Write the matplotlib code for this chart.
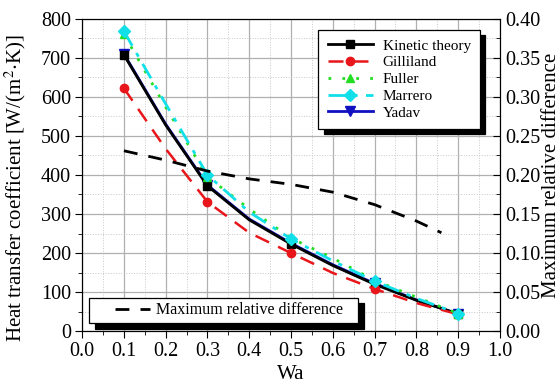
import numpy as np
import matplotlib
matplotlib.use('Agg')
import matplotlib.pyplot as plt
from matplotlib.ticker import MultipleLocator, FormatStrFormatter
from matplotlib.legend_handler import HandlerLine2D

plt.rcParams['font.family'] = ['Liberation Serif', 'DejaVu Serif']
plt.rcParams['mathtext.fontset'] = 'stix'

# data
wa = [0.1, 0.2, 0.3, 0.4, 0.5, 0.6, 0.7, 0.8, 0.9]
kinetic = [708, 528, 372, 285, 223, 168, 120, 79, 44]
gilliland = [622, 467, 331, 252, 200, 149, 108, 72, 43]
fuller = [760, 574, 395, 313, 238, 187, 130, 87, 45]
marrero = [768, 582, 400, 305, 236, 180, 128, 84, 45]
yadav = [710, 530, 374, 287, 225, 170, 122, 80, 44]

wa_diff = [0.1, 0.2, 0.3, 0.4, 0.5, 0.6, 0.7, 0.8, 0.86]
max_diff = [0.231, 0.219, 0.205, 0.195, 0.188, 0.178, 0.162, 0.141, 0.126]

fig = plt.figure(figsize=(5.57, 3.85), dpi=100)
ax = fig.add_axes([0.1475, 0.140, 0.750, 0.811])

ax.plot(wa, yadav, color='#1010c0', lw=2, marker='v', ms=7, markevery=2,
        label='Yadav', zorder=3)
ax.plot(wa, kinetic, color='black', lw=2, marker='s', ms=6, markevery=2,
        label='Kinetic theory', zorder=4)
ax.plot(wa, gilliland, color='#e8161a', lw=1.8, ls=(0, (6, 4)), marker='o', ms=6,
        markevery=2, label='Gilliland', zorder=4)
ax.plot(wa, fuller, color='#22dd22', lw=2, ls=(0, (1, 4)), marker='^', ms=6,
        markevery=2, label='Fuller', zorder=4)
ax.plot(wa, marrero, color='#11e0e8', lw=2, ls=(0, (6, 3, 1.5, 3)), marker='D', ms=6,
        markevery=2, label='Marrero', zorder=5)

ax.set_xlim(0, 1.0)
ax.set_ylim(0, 800)
ax.xaxis.set_major_locator(MultipleLocator(0.1))
ax.xaxis.set_minor_locator(MultipleLocator(0.05))
ax.yaxis.set_major_locator(MultipleLocator(100))
ax.yaxis.set_minor_locator(MultipleLocator(50))
ax.grid(which='major', color='#b0b0b0', lw=0.9)
ax.grid(which='minor', color='#c8c8c8', lw=0.7, ls=':')
ax.set_axisbelow(True)
ax.tick_params(which='both', direction='out', labelsize=14.5, top=False, right=False)
ax.tick_params(which='major', length=5, pad=3)
ax.tick_params(which='minor', length=3)
ax.set_xlabel('Wa', fontsize=15)
ax.xaxis.set_label_coords(0.5, -0.11)
ax.set_ylabel(r'Heat transfer coefficient [W/(m$^2$$\cdot$K)]', fontsize=15)
ax.yaxis.set_label_coords(-0.13, 0.457)

handles, labels = ax.get_legend_handles_labels()
order = [1, 2, 3, 4, 0]
leg = ax.legend([handles[i] for i in order], [labels[i] for i in order],
                loc='upper right', bbox_to_anchor=(0.952, 0.965), borderaxespad=0,
                fontsize=11, fancybox=False, edgecolor='black', framealpha=1,
                shadow={'color': 'black', 'alpha': 1, 'ox': 4, 'oy': -4},
                handlelength=3.0, handletextpad=0.6, labelspacing=0.2, borderpad=0.6)
leg.get_frame().set_linewidth(0.9)

ax2 = ax.twinx()
ax2.plot(wa_diff, max_diff, color='black', lw=2, ls=(0, (5, 4)),
         label='Maximum relative difference')
ax2.set_ylim(0, 0.4)
ax2.yaxis.set_major_locator(MultipleLocator(0.05))
ax2.yaxis.set_minor_locator(MultipleLocator(0.025))
ax2.yaxis.set_major_formatter(FormatStrFormatter('%.2f'))
ax2.tick_params(which='both', direction='in', labelsize=14.5)
ax2.tick_params(which='major', length=5, pad=4)
ax2.tick_params(which='minor', length=3)
ax2.set_ylabel('Maximum relative difference', fontsize=15)
ax2.yaxis.set_label_coords(1.101, 0.5)
leg2 = ax2.legend(loc='lower left', bbox_to_anchor=(0.0163, 0.0256, 0.644, 0.07),
                  mode='expand', borderaxespad=0, fontsize=11.5,
                  fancybox=False, edgecolor='black', framealpha=1,
                  shadow={'color': 'black', 'alpha': 1, 'ox': 4, 'oy': -4},
                  handlelength=3.5, handletextpad=0.4, borderpad=0.3,
                  handler_map={matplotlib.lines.Line2D: HandlerLine2D(xpad=1.3)})
leg2.get_frame().set_linewidth(0.9)

fig.savefig('out.png', dpi=100)
